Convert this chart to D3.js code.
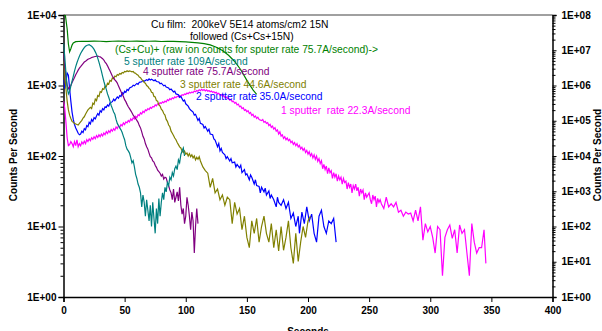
<!DOCTYPE html>
<html>
<head>
<meta charset="utf-8">
<script src="https://cdn.jsdelivr.net/npm/d3@7"></script>
<style>
  body { margin: 0; background: #fff; }
  svg { display: block; font-family: Arial, "Liberation Sans", sans-serif; }
  .axis text { font-weight: bold; font-size: 10px; fill: #000; }
  .axis path, .axis line { stroke: #000; }
  text.note { white-space: pre; }
</style>
</head>
<body>
<svg id="chart" width="602" height="331"></svg>
<script>
// sputter profiles, [seconds, counts per second]
const rate22 = [[0,600],[1,480],[2,300],[3,180],[4,140],[5,145],[6,160],[7,150],[8,135],[9,160],[10,140],[11,170],[12,135],[13,150],[14,140],[15,158],[16,148],[17,162],[18,150],[19,170],[20,160],[21,175],[22,165],[23,182],[24,172],[25,188],[26,176],[27,195],[28,183],[29,200],[30,188],[31,205],[32,192],[33,212],[34,200],[35,222],[36,208],[37,228],[38,215],[39,238],[40,225],[41,245],[42,232],[43,258],[44,245],[45,268],[46,255],[47,280],[48,268],[49,295],[50,280],[51,305],[52,295],[53,318],[54,305],[55,335],[56,320],[57,348],[58,335],[59,365],[60,350],[61,385],[62,375],[63,410],[64,395],[65,430],[66,415],[67,450],[68,440],[69,470],[70,455],[71,490],[72,475],[73,505],[74,495],[75,530],[76,515],[77,550],[78,535],[79,570],[80,555],[81,585],[82,570],[83,600],[84,585],[85,630],[86,610],[87,650],[88,630],[89,670],[90,650],[91,690],[92,670],[93,705],[94,690],[95,720],[96,705],[97,740],[98,725],[99,760],[100,745],[101,780],[102,765],[103,800],[104,780],[105,810],[106,790],[107,835],[108,815],[109,850],[110,830],[111,870],[112,845],[113,880],[114,850],[115,875],[116,840],[117,870],[118,830],[119,850],[120,815],[121,835],[122,800],[123,815],[124,785],[125,800],[126,760],[127,775],[128,730],[129,740],[130,705],[131,720],[132,680],[133,690],[134,655],[135,665],[136,620],[137,635],[138,590],[139,600],[140,560],[141,575],[142,530],[143,545],[144,500],[145,510],[146,470],[147,485],[148,445],[149,455],[150,425],[151,440],[152,400],[153,415],[154,375],[155,390],[156,355],[157,370],[158,340],[159,355],[160,330],[162,318],[163,330],[164,300],[165,310],[166,290],[167,298],[168,270],[169,282],[170,255],[171,265],[172,240],[173,252],[174,225],[175,235],[176,205],[177,220],[178,192],[179,200],[180,178],[181,188],[182,170],[183,180],[184,165],[185,172],[186,155],[187,162],[188,146],[189,155],[190,140],[191,150],[192,134],[193,142],[194,126],[195,133],[196,120],[197,128],[198,112],[199,120],[200,106],[201,115],[202,100],[203,108],[204,94],[205,104],[206,90],[207,100],[208,84],[209,92],[210,78],[211,86],[212,66],[213,76],[214,64],[215,72],[216,56],[217,68],[218,58],[219,62],[220,48],[221,58],[222,50],[223,56],[224,44],[225,52],[226,46],[227,50],[228,40],[229,48],[230,42],[231,44],[232,34],[233,42],[234,36],[235,40],[236,30],[237,38],[238,34],[239,40],[240,32],[241,36],[242,27],[243,34],[244,30],[245,33],[246,24],[247,30],[248,26],[249,28],[250,30],[251,24],[252,21],[253,28],[254,24],[255,27],[256,19],[257,25],[258,22],[259,24],[260,21],[262,18],[264,26],[266,19],[268,21],[270,19],[272,22],[274,16],[276,17],[278,14],[280,16],[282,15],[284,15.5],[286,12],[288,17],[290,12],[292,19],[294,6.4],[296,11],[298,8.4],[300,10],[302,7],[304,4.2],[306,10],[308,9],[310,2],[312,7],[314,9],[316,10.5],[318,6.8],[320,9],[322,4.2],[324,10.5],[326,8],[328,9],[330,4.2],[332,2],[334,11],[336,6],[338,4.2],[340,5],[342,5],[344,9],[345.5,3]];
const rate35 = [[0,1200],[1,900],[2,1100],[3,1500],[4,1400],[5,900],[6,600],[7,420],[8,330],[9,280],[10,250],[11,230],[12,210],[13,200],[14,205],[15,225],[16,215],[17,245],[18,235],[19,270],[20,260],[21,300],[22,285],[23,330],[24,310],[25,350],[26,335],[27,370],[28,400],[29,380],[30,440],[31,420],[32,470],[33,450],[34,500],[35,490],[36,530],[37,510],[38,565],[40,590],[41,640],[42,610],[44,690],[45,660],[46,720],[47,700],[48,790],[49,760],[50,830],[51,800],[52,880],[53,850],[54,920],[56,960],[57,1010],[58,990],[60,1070],[61,1040],[62,1110],[64,1130],[65,1180],[66,1150],[68,1210],[69,1180],[70,1240],[71,1200],[72,1230],[74,1170],[75,1200],[76,1140],[78,1120],[79,1060],[80,1080],[82,990],[83,1010],[84,950],[86,920],[87,870],[88,890],[90,810],[91,830],[92,760],[94,740],[95,680],[96,700],[98,600],[99,620],[100,550],[102,510],[103,470],[104,450],[106,420],[107,380],[108,390],[110,320],[111,340],[112,290],[114,280],[115,250],[116,262],[118,225],[119,240],[120,205],[122,200],[123,175],[124,168],[126,135],[127,150],[128,118],[129,128],[130,112],[132,104],[133,92],[134,98],[136,85],[137,92],[138,80],[140,82],[141,70],[142,76],[144,68],[145,74],[146,58],[148,64],[149,54],[150,56],[152,46],[153,54],[154,50],[156,40],[157,46],[158,38],[160,37],[161,30],[162,36],[164,31],[165,35],[166,28],[168,32],[169,25],[170,28],[172,24],[174,19],[175,26],[176,22],[178,20],[180,24],[182,18],[184,22],[186,13],[188,15.5],[190,10],[192,14],[193,8],[195,16],[197,11],[199,19],[201,12],[203,15],[205,8],[207,6],[209,14],[211,17],[213,10],[215,8],[217,12],[219,11],[221,13],[223,6]];
const rate44 = [[0,2200],[1,1400],[2,900],[3,600],[4,450],[5,380],[6,340],[7,310],[8,300],[9,290],[10,285],[11,280],[12,275],[13,290],[14,305],[15,320],[16,345],[17,360],[18,390],[19,420],[20,450],[22,490],[23,470],[24,560],[25,540],[26,640],[27,610],[28,720],[29,700],[30,820],[31,800],[32,900],[33,880],[34,980],[35,960],[36,1080],[37,1050],[38,1180],[39,1150],[40,1280],[41,1250],[42,1360],[43,1330],[44,1430],[45,1400],[46,1480],[47,1450],[48,1530],[49,1500],[50,1580],[51,1560],[52,1620],[53,1580],[54,1610],[55,1590],[56,1560],[57,1580],[58,1510],[59,1490],[60,1430],[61,1400],[62,1320],[63,1290],[64,1210],[65,1180],[66,1100],[67,1080],[68,1000],[69,970],[70,910],[71,880],[72,800],[73,790],[74,700],[75,690],[76,610],[77,600],[78,530],[79,510],[80,460],[81,440],[82,400],[83,380],[84,330],[85,310],[86,275],[87,260],[88,225],[89,210],[90,195],[91,180],[92,170],[93,155],[94,145],[95,135],[96,130],[97,118],[98,112],[99,118],[100,106],[101,110],[102,100],[103,108],[104,98],[105,104],[106,94],[107,100],[108,88],[109,96],[110,90],[111,98],[112,85],[114,70],[116,62],[118,57],[120,36],[122,48],[124,30],[126,34],[128,24],[130,28],[132,20],[134,26],[136,24],[138,11],[140,22],[142,15],[144,18],[146,9],[148,14],[150,7],[152,5],[154,12],[156,8],[158,13],[160,6],[162,10],[164,14],[166,8],[168,6],[170,11],[172,5],[174,9],[176,4.5],[178,10],[180,4.6],[182,7],[184,12],[186,5],[188,3],[190,8],[192,3.2],[194,6],[196,10],[198,7],[200,12],[202,14]];
const rate75 = [[0,2800],[1,1900],[2,1300],[3,1000],[4,900],[5,950],[6,1000],[7,1100],[8,1200],[9,1300],[10,1420],[11,1530],[12,1650],[13,1760],[14,1850],[15,1950],[16,2050],[17,2150],[18,2200],[19,2280],[20,2350],[21,2400],[22,2430],[23,2500],[24,2520],[25,2560],[26,2580],[27,2600],[28,2620],[29,2580],[30,2550],[31,2480],[32,2400],[33,2300],[34,2150],[35,2050],[36,1900],[37,1750],[38,1620],[39,1480],[40,1350],[41,1280],[42,1200],[43,1150],[44,1080],[45,980],[46,900],[47,820],[48,760],[49,700],[50,630],[51,590],[52,540],[53,500],[54,470],[55,440],[56,410],[57,380],[58,360],[59,340],[60,320],[61,300],[62,270],[63,250],[64,220],[65,190],[66,175],[67,150],[68,135],[69,125],[70,110],[71,98],[72,94],[73,85],[74,82],[75,74],[76,69],[77,63],[78,60],[79,57],[80,52],[81,55],[82,47],[83,50],[84,49],[85,42],[86,38],[87,33],[88,30],[89,24],[90,34],[91,22],[92,26],[93,31],[94,23],[95,36],[96,20],[97,15],[98,18],[99,11],[100,14],[101,26],[102,20],[103,14],[104,9],[105,16],[106,12],[107,4.2],[108,10],[109,18],[110,11]];
const rate109 = [[0,4000],[1,2600],[2,1500],[3,950],[4,760],[5,820],[6,980],[7,1150],[8,1350],[9,1600],[10,1850],[11,2100],[12,2350],[13,2600],[14,2850],[15,3050],[16,3250],[17,3450],[18,3600],[19,3700],[20,3750],[21,3800],[22,3700],[23,3600],[24,3450],[25,3250],[26,3000],[27,2750],[28,2450],[29,2150],[30,1850],[31,1600],[32,1350],[33,1150],[34,1000],[35,880],[36,760],[37,680],[38,600],[39,520],[40,470],[41,420],[42,390],[43,330],[44,290],[45,270],[46,250],[47,235],[48,215],[49,190],[50,170],[51,140],[52,125],[53,118],[54,110],[55,95],[56,80],[57,86],[58,70],[59,55],[60,48],[61,40],[62,36],[63,30],[64,19],[65,28],[66,22],[67,14],[68,24],[69,17],[70,12],[71,20],[72,10],[73,22],[74,13],[75,8],[76,18],[77,11],[78,25],[79,14],[80,22],[81,30],[82,24],[83,36],[84,31],[85,42],[86,38],[87,50],[88,46],[89,58],[90,52],[91,66],[92,72],[93,64],[94,88],[95,80],[96,105],[97,118],[98,130],[99,100]];
// (Cs+Cu)+ raw ion counts, right axis
const csCu = [[0,1e8],[1.5,1e8],[3,4e7],[4,1.5e7],[5,9e6],[6,1.1e7],[7,1.4e7],[8,1.6e7],[10,1.75e7],[15,1.8e7],[20,1.78e7],[25,1.82e7],[30,1.8e7],[35,1.76e7],[40,1.8e7],[45,1.83e7],[50,1.79e7],[55,1.8e7],[60,1.82e7],[65,1.78e7],[70,1.8e7],[75,1.81e7],[80,1.77e7],[85,1.8e7],[90,1.78e7],[95,1.76e7],[100,1.72e7],[105,1.68e7],[110,1.62e7],[115,1.55e7],[120,1.42e7],[125,1.22e7],[130,9.8e6],[135,7.2e6],[140,4.8e6],[145,2.8e6],[150,1.4e6],[155,7.5e5],[158,5.6e5]];

const xTicks = [0, 50, 100, 150, 200, 250, 300, 350, 400];
const leftTicks = [1, 10, 100, 1000, 10000];
const rightTicks = [1, 10, 100, 1000, 1e4, 1e5, 1e6, 1e7, 1e8];

const svg = d3.select("#chart");
const plotL = 63.5, plotR = 552.5, plotT = 15, plotB = 297;

const x = d3.scaleLinear().domain([0, 400]).range([plotL, plotR]);
const yL = d3.scaleLog().domain([1, 1e4]).range([plotB, plotT]);
const yR = d3.scaleLog().domain([1, 1e8]).range([plotB, plotT]);

const fmt = v => "1E+" + String(Math.round(Math.log10(v))).padStart(2, "0");
const minors = decades => {
  var out = [];
  decades.slice(0, -1).forEach(d => { for (var k = 2; k <= 9; k++) out.push(d * k); });
  return out;
};

svg.append("defs").append("clipPath").attr("id", "plot")
  .append("rect").attr("x", plotL).attr("y", plotT).attr("width", plotR - plotL).attr("height", plotB - plotT);

// top border of plot area
svg.append("line").attr("x1", plotL).attr("x2", plotR).attr("y1", plotT).attr("y2", plotT)
  .attr("stroke", "#808080").attr("stroke-width", 1.5);

// axes
svg.append("g").attr("class", "axis").attr("transform", `translate(0,${plotB})`)
  .call(d3.axisBottom(x).tickValues(xTicks).tickSize(5).tickPadding(5));
svg.append("g").attr("class", "axis").attr("transform", `translate(${plotL},0)`)
  .call(d3.axisLeft(yL).tickValues(leftTicks).tickFormat(fmt).tickSize(5).tickPadding(2));
svg.append("g").attr("class", "axis").attr("transform", `translate(${plotL},0)`)
  .call(d3.axisLeft(yL).tickValues(minors(leftTicks)).tickFormat("").tickSize(3))
  .select(".domain").remove();
svg.append("g").attr("class", "axis").attr("transform", `translate(${plotR},0)`)
  .call(d3.axisRight(yR).tickValues(rightTicks).tickFormat(fmt).tickSize(4).tickPadding(5));
svg.append("g").attr("class", "axis").attr("transform", `translate(${plotR},0)`)
  .call(d3.axisRight(yR).tickValues(minors(rightTicks)).tickFormat("").tickSize(3))
  .select(".domain").remove();
svg.selectAll(".axis .domain").attr("stroke-width", 1.5);
svg.selectAll(".axis line").attr("stroke-width", 1);

// axis titles
svg.append("text").attr("transform", "translate(17,155) rotate(-90)")
  .attr("text-anchor", "middle").attr("font-size", 10).attr("font-weight", "bold").text("Counts Per Second");
svg.append("text").attr("transform", "translate(601,155) rotate(-90)")
  .attr("text-anchor", "middle").attr("font-size", 10).attr("font-weight", "bold").text("Counts Per Second");
svg.append("text").attr("x", 308).attr("y", 335)
  .attr("text-anchor", "middle").attr("font-size", 10).attr("font-weight", "bold").text("Seconds");

// curves
var lineL = d3.line().x(d => x(d[0])).y(d => yL(d[1]));
var lineR = d3.line().x(d => x(d[0])).y(d => yR(d[1]));
var plot = svg.append("g").attr("clip-path", "url(#plot)");
[[rate22, "#FF00FF"], [rate35, "#0000FF"], [rate44, "#808000"], [rate75, "#800080"], [rate109, "#008080"]]
  .forEach(s => {
    plot.append("path").datum(s[0]).attr("d", lineL)
      .attr("fill", "none").attr("stroke", s[1]).attr("stroke-width", 1.2);
  });
plot.append("path").datum(csCu).attr("d", lineR)
  .attr("fill", "none").attr("stroke", "#008000").attr("stroke-width", 1.2);

// annotations
var notes = [
  ["Cu film:  200keV 5E14 atoms/cm2 15N", "#000", 151, 28],
  ["followed (Cs+Cs+15N)", "#000", 190, 39.5],
  ["(Cs+Cu)+ (raw ion counts for sputer rate 75.7A/second)->", "#008000", 115, 53],
  ["5 sputter rate 109A/second", "#008080", 124, 65],
  ["4 sputter rate 75.7A/second", "#800080", 143, 75],
  ["3 sputter rate 44.6A/second", "#808000", 180, 87.5],
  ["2 sputter rate 35.0A/second", "#0000FF", 196, 100],
  ["1 sputter  rate 22.3A/second", "#FF00FF", 281, 114]
];
svg.selectAll("text.note").data(notes).enter().append("text")
  .attr("class", "note").attr("x", d => d[2]).attr("y", d => d[3])
  .attr("xml:space", "preserve")
  .attr("fill", d => d[1]).attr("font-size", 10.3)
  .text(d => d[0]);
</script>
</body>
</html>
